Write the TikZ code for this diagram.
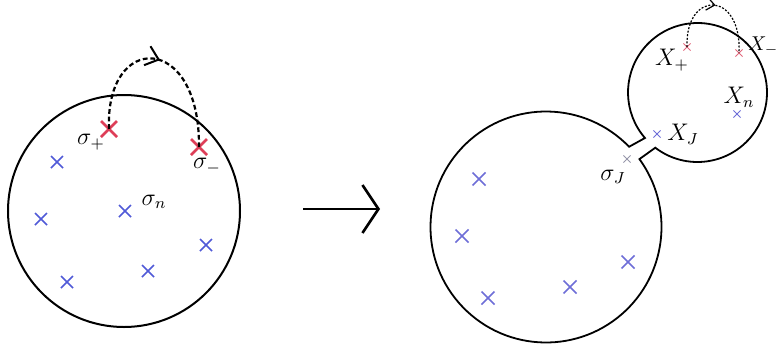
\documentclass[tikz,border=0pt]{standalone}
\usepackage{amsmath}
\usetikzlibrary{arrows.meta, calc, positioning, shapes.misc, decorations.markings}
\definecolor{crossblue}{RGB}{80,90,215}
\definecolor{crossred}{RGB}{222,62,88}
\definecolor{paleblue}{RGB}{110,110,215}
\definecolor{palered}{RGB}{226,105,125}
\definecolor{greyx}{RGB}{150,150,170}
\tikzset{%
   % point insertions drawn as crosses
   redx/.style={
      cross out,
      draw=crossred,
      line width=1.3pt,
      inner sep=0pt,
      outer sep=0pt,
      minimum size=8pt
   },
   bluex/.style={
      cross out,
      draw=crossblue,
      line width=.8pt,
      inner sep=0pt,
      outer sep=0pt,
      minimum size=6pt
   },
   palebluex/.style={
      bluex,
      draw=paleblue,
      line width=.75pt,
      minimum size=6.5pt
   },
   smallx/.style={
      cross out,
      draw=#1,
      line width=.5pt,
      inner sep=0pt,
      outer sep=0pt,
      minimum size=3.6pt
   },
   lbl/.style={font=\large, inner sep=1pt},
   % dashed hop between the two marked points
   hop/.style={
      dashed,
      dash pattern=on 2.4pt off 1.4pt,
      line width=1.1pt,
      postaction={decorate, decoration={markings,
         mark=at position 0.5 with {\arrow[line width=1pt]{Straight Barb[length=6pt,width=10pt]}}}}
   },
   smallhop/.style={
      dash pattern=on 1pt off .8pt,
      line width=.6pt,
      postaction={decorate, decoration={markings,
         mark=at position 0.5 with {\arrow{Straight Barb[length=4pt,width=6.5pt]}}}}
   },
}

\begin{document}
\begin{tikzpicture}[x=.5pt, y=-.5pt]
   \useasboundingbox (0,0) rectangle (777,354);
   % before: one sphere
   \node[circle, draw, line width=1pt, minimum size=116pt] (ball) at (124,211) {};
   \node[redx] (sp) at (109,129) {};
   \node[redx] (sm) at (199,147) {};
   \node[lbl] (lsp) at (91,142) {$\sigma_+$};
   \node[lbl] (lsm) at (207,166) {$\sigma_-$};
   \node[lbl] (lsn) at (154,202) {$\sigma_n$};
   \node[bluex] (b1) at (57,162) {};
   \node[bluex] (b2) at (41,219) {};
   \node[bluex] (b3) at (125,211) {};
   \node[bluex] (b4) at (67,282) {};
   \node[bluex] (b5) at (148,271) {};
   \node[bluex] (b6) at (206,245) {};
   \draw[hop] (sp.center) .. controls (105,32) and (200,32) .. (sm.center);
   % map
   \coordinate (arrL) at (303,209);
   \coordinate (arrR) at (380,209);
   \draw[line width=1.3pt, -{Straight Barb[length=8pt,width=24pt]}] (arrL) -- (arrR);
   % after: sphere with a bubble pinched off
   \draw[line width=.9pt]
      ($(546,227)+(-44:115.5)$) arc[start angle=-44, end angle=-396, radius=115.5]
      -- ($(697.5,92.5)+(127.4:69.5)$) arc[start angle=127.4, end angle=-220.9, radius=69.5]
      -- cycle;
   \node[palebluex] (c1) at (479,179) {};
   \node[palebluex] (c2) at (462,236) {};
   \node[palebluex] (c3) at (488,298) {};
   \node[palebluex] (c4) at (570,287) {};
   \node[palebluex] (c5) at (628,262) {};
   \node[smallx=greyx] (sj) at (627,159) {};
   \node[lbl] (lsj) at (613,177) {$\sigma_J$};
   \node[smallx=paleblue] (xj) at (657,134) {};
   \node[lbl] (lxj) at (683,134) {$X_J$};
   \node[smallx=palered] (xp) at (687,47) {};
   \node[lbl] (lxp) at (672,60) {$X_+$};
   \node[smallx=palered] (xm) at (739,53) {};
   \node[anchor=west, inner sep=0pt] (lxm) at (748,46) {$X_-$};
   \node[smallx=paleblue] (xn) at (737,114) {};
   \node[lbl] (lxn) at (739,97) {$X_n$};
   \draw[smallhop] (xp.center) .. controls (685,-10) and (742,-10) .. (xm.center);
\end{tikzpicture}
\end{document}
